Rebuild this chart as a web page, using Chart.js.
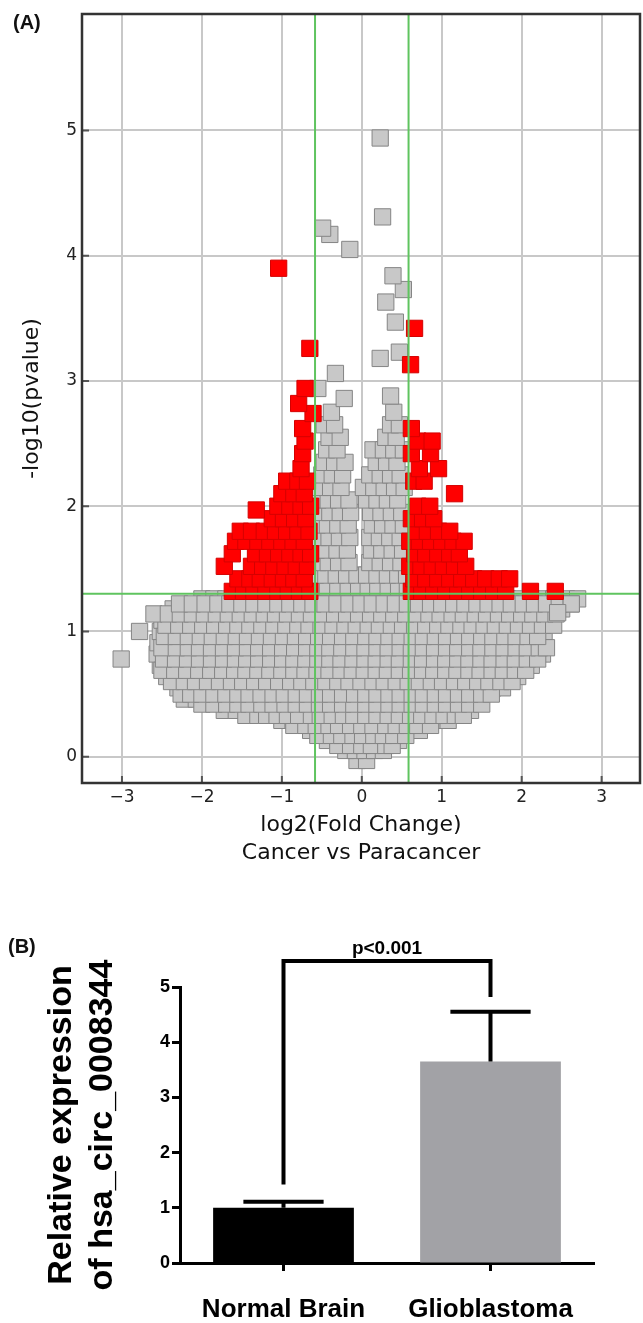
<!DOCTYPE html>
<html>
<head>
<meta charset="utf-8">
<script src="https://cdn.jsdelivr.net/npm/chart.js@4.4.1/dist/chart.umd.min.js"></script>
<style>
  html, body { margin: 0; padding: 0; background: #fff; }
  body { width: 643px; height: 1323px; position: relative; overflow: hidden; }
  .panel { position: absolute; left: 0; }
  #volcanoWrap { top: 0; width: 643px; height: 880px; }
  #barWrap { top: 900px; width: 643px; height: 423px; }
  .tag { position: absolute; font: bold 20px "Liberation Sans", Arial, sans-serif; color: #111; }
</style>
</head>
<body>
<div class="panel" id="volcanoWrap"><canvas id="volcano" width="643" height="880"></canvas></div>
<div class="panel" id="barWrap"><canvas id="bars" width="643" height="423"></canvas></div>
<div class="tag" style="left:13px;top:11px">(A)</div>
<div class="tag" style="left:8px;top:935px">(B)</div>
<script>
// ---- Panel A: volcano plot, log2(fold change) vs -log10(p) ----
const fcCut = 0.585;   // log2(1.5)
const pCut = 1.301;    // -log10(0.05)
const xMin = -3.5, xMax = 3.48;
const yMin = -0.21, yMax = 5.93;

// not significant circRNAs, grouped by -log10(p) level: [y, [x...]]
const grayRows = [
  [-0.03, [-0.06, 0.06]],
  [0.05, [-0.2, -0.08, 0.04, 0.16, 0.27]],
  [0.13, [-0.43, -0.3, -0.17, -0.05, 0.08, 0.2, 0.33, 0.46]],
  [0.21, [-0.64, -0.5, -0.36, -0.22, -0.09, 0.05, 0.18, 0.32, 0.46, 0.6, 0.72]],
  [0.29, [-1.0, -0.86, -0.72, -0.58, -0.44, -0.3, -0.16, -0.02, 0.12, 0.26, 0.4, 0.54, 0.68, 0.82, 0.96, 1.08]],
  [0.37, [-1.72, -1.57, -1.42, -1.28, -1.14, -1.0, -0.86, -0.72, -0.58, -0.44, -0.3, -0.16, -0.02, 0.12, 0.26, 0.4, 0.54, 0.68, 0.82, 0.96, 1.1, 1.24, 1.36]],
  [0.46, [-2.22, -2.07, -1.93, -1.78, -1.62, -1.48, -1.33, -1.18, -1.04, -0.9, -0.75, -0.61, -0.46, -0.31, -0.17, -0.02, 0.12, 0.27, 0.41, 0.56, 0.7, 0.85, 0.99, 1.14, 1.28, 1.43]],
  [0.55, [-2.3, -2.16, -2.01, -1.86, -1.71, -1.56, -1.42, -1.27, -1.12, -0.97, -0.83, -0.68, -0.53, -0.38, -0.24, -0.09, 0.05, 0.2, 0.34, 0.49, 0.63, 0.78, 0.92, 1.07, 1.21, 1.36, 1.5, 1.64, 1.76]],
  [0.64, [-2.44, -2.29, -2.14, -1.99, -1.84, -1.7, -1.55, -1.4, -1.25, -1.1, -0.96, -0.81, -0.66, -0.51, -0.37, -0.22, -0.07, 0.08, 0.22, 0.37, 0.51, 0.66, 0.8, 0.95, 1.09, 1.24, 1.38, 1.53, 1.67, 1.82, 1.95]],
  [0.73, [-2.52, -2.37, -2.22, -2.07, -1.92, -1.77, -1.63, -1.48, -1.33, -1.18, -1.03, -0.89, -0.74, -0.59, -0.44, -0.3, -0.15, 0.0, 0.15, 0.29, 0.44, 0.58, 0.73, 0.87, 1.02, 1.16, 1.31, 1.45, 1.6, 1.74, 1.89, 2.03, 2.12]],
  [0.82, [-2.56, -2.41, -2.26, -2.11, -1.96, -1.81, -1.66, -1.52, -1.37, -1.22, -1.07, -0.92, -0.78, -0.63, -0.48, -0.33, -0.19, -0.04, 0.11, 0.25, 0.4, 0.54, 0.69, 0.83, 0.98, 1.12, 1.27, 1.41, 1.56, 1.7, 1.85, 1.99, 2.14, 2.26]],
  [0.91, [-2.55, -2.4, -2.25, -2.1, -1.95, -1.8, -1.65, -1.5, -1.36, -1.21, -1.06, -0.91, -0.76, -0.62, -0.47, -0.32, -0.17, -0.03, 0.12, 0.26, 0.41, 0.55, 0.7, 0.84, 0.99, 1.13, 1.28, 1.42, 1.57, 1.71, 1.86, 2.0, 2.15, 2.27]],
  [1.0, [-2.78, -2.52, -2.37, -2.22, -2.07, -1.92, -1.77, -1.62, -1.47, -1.33, -1.18, -1.03, -0.88, -0.73, -0.59, -0.44, -0.29, -0.14, 0.0, 0.15, 0.29, 0.44, 0.58, 0.73, 0.87, 1.02, 1.16, 1.31, 1.45, 1.6, 1.74, 1.89, 2.03, 2.17, 2.28]],
  [1.09, [-2.5, -2.35, -2.2, -2.05, -1.9, -1.75, -1.6, -1.45, -1.3, -1.16, -1.01, -0.86, -0.71, -0.56, -0.42, -0.27, -0.12, 0.02, 0.17, 0.31, 0.46, 0.6, 0.75, 0.89, 1.04, 1.18, 1.33, 1.47, 1.62, 1.76, 1.91, 2.05, 2.2, 2.34]],
  [1.18, [-2.36, -2.2, -2.04, -1.88, -1.73, -1.58, -1.43, -1.28, -1.13, -0.98, -0.84, -0.69, -0.54, -0.39, -0.25, -0.1, 0.05, 0.19, 0.34, 0.48, 0.63, 0.77, 0.92, 1.06, 1.21, 1.35, 1.5, 1.64, 1.79, 1.93, 2.08, 2.22, 2.36, 2.5]],
  [1.26, [-2.0, -1.85, -1.7, -1.55, -1.4, -1.25, -1.1, -0.95, -0.8, -0.66, -0.51, -0.36, -0.22, -0.07, 0.08, 0.22, 0.37, 0.51, 0.66, 0.8, 0.95, 1.09, 1.24, 1.38, 1.53, 1.67, 1.82, 1.96, 2.11, 2.25, 2.4, 2.56, 2.7]],
  [1.35, [-0.56, -0.43, -0.3, -0.17, -0.04, 0.08, 0.2, 0.33, 0.46, 0.57]],
  [1.45, [-0.58, -0.45, -0.32, -0.19, -0.06, 0.06, 0.19, 0.32, 0.45, 0.56]],
  [1.55, [-0.55, -0.42, -0.29, -0.16, 0.1, 0.23, 0.36, 0.49]],
  [1.65, [-0.57, -0.44, -0.31, -0.18, 0.12, 0.25, 0.38, 0.51]],
  [1.75, [-0.54, -0.41, -0.28, -0.15, 0.1, 0.22, 0.35, 0.48]],
  [1.85, [-0.56, -0.43, -0.3, -0.17, 0.13, 0.26, 0.39, 0.52]],
  [1.95, [-0.53, -0.4, -0.27, -0.14, 0.11, 0.24, 0.37, 0.5]],
  [2.05, [-0.55, -0.42, -0.29, -0.16, 0.06, 0.19, 0.32, 0.45]],
  [2.15, [-0.52, -0.39, -0.26, 0.02, 0.15, 0.28, 0.41, 0.53]],
  [2.25, [-0.5, -0.37, -0.24, 0.1, 0.23, 0.36, 0.48]],
  [2.35, [-0.47, -0.34, -0.21, 0.18, 0.31, 0.44]],
  [2.45, [-0.44, -0.31, 0.14, 0.27, 0.4, 0.52]],
  [2.55, [-0.41, -0.27, 0.3, 0.43]],
  [2.65, [-0.47, -0.34, 0.36, 0.47]],
  [2.75, [-0.38, 0.4]]
];
// second, offset layer of the dense gray cloud
const grayRowsB = [
  [0.09, [-0.3, -0.14, 0.0, 0.12, 0.3, 0.38]],
  [0.17, [-0.55, -0.38, -0.25, -0.11, 0.01, 0.15, 0.27, 0.4, 0.55]],
  [0.25, [-0.85, -0.7, -0.57, -0.41, -0.29, -0.14, 0.0, 0.14, 0.3, 0.43, 0.57, 0.7, 0.86]],
  [0.33, [-1.45, -1.3, -1.19, -1.06, -0.93, -0.79, -0.63, -0.52, -0.37, -0.23, -0.1, 0.05, 0.19, 0.33, 0.47, 0.61, 0.75, 0.89, 1.03, 1.17, 1.27]],
  [0.42, [-2.0, -1.85, -1.69, -1.55, -1.41, -1.25, -1.11, -0.96, -0.82, -0.68, -0.53, -0.39, -0.24, -0.1, 0.05, 0.19, 0.34, 0.48, 0.63, 0.77, 0.92, 1.06, 1.21, 1.35, 1.5]],
  [0.5, [-2.26, -2.14, -2.0, -1.85, -1.7, -1.55, -1.41, -1.26, -1.11, -0.97, -0.82, -0.68, -0.53, -0.39, -0.24, -0.09, 0.05, 0.19, 0.34, 0.48, 0.63, 0.77, 0.92, 1.06, 1.21, 1.35, 1.5, 1.62]],
  [0.6, [-2.38, -2.22, -2.08, -1.93, -1.78, -1.63, -1.49, -1.34, -1.19, -1.04, -0.89, -0.75, -0.6, -0.45, -0.3, -0.16, -0.01, 0.14, 0.28, 0.43, 0.58, 0.72, 0.87, 1.01, 1.16, 1.3, 1.45, 1.59, 1.74, 1.88]],
  [0.69, [-2.5, -2.34, -2.19, -2.04, -1.89, -1.74, -1.59, -1.45, -1.3, -1.15, -1.0, -0.85, -0.71, -0.56, -0.41, -0.26, -0.12, 0.03, 0.18, 0.32, 0.47, 0.61, 0.76, 0.9, 1.05, 1.19, 1.34, 1.48, 1.63, 1.77, 1.92, 2.05]],
  [0.78, [-2.48, -2.33, -2.18, -2.03, -1.88, -1.73, -1.58, -1.44, -1.29, -1.14, -0.99, -0.85, -0.7, -0.55, -0.4, -0.26, -0.11, 0.04, 0.18, 0.33, 0.47, 0.62, 0.76, 0.91, 1.05, 1.2, 1.34, 1.49, 1.63, 1.78, 1.92, 2.07, 2.2]],
  [0.87, [-2.5, -2.32, -2.17, -2.03, -1.88, -1.73, -1.58, -1.43, -1.29, -1.14, -0.99, -0.84, -0.69, -0.55, -0.4, -0.25, -0.1, 0.04, 0.19, 0.33, 0.48, 0.62, 0.77, 0.91, 1.06, 1.2, 1.35, 1.49, 1.64, 1.78, 1.93, 2.07, 2.22, 2.31]],
  [0.96, [-2.47, -2.32, -2.17, -2.02, -1.87, -1.72, -1.57, -1.43, -1.28, -1.13, -0.98, -0.83, -0.69, -0.54, -0.39, -0.24, -0.1, 0.05, 0.19, 0.34, 0.48, 0.63, 0.77, 0.92, 1.06, 1.21, 1.35, 1.5, 1.64, 1.79, 1.93, 2.08, 2.2]],
  [1.05, [-2.45, -2.29, -2.14, -1.99, -1.84, -1.69, -1.55, -1.4, -1.25, -1.1, -0.95, -0.8, -0.66, -0.51, -0.36, -0.21, -0.07, 0.08, 0.22, 0.37, 0.51, 0.66, 0.8, 0.95, 1.09, 1.24, 1.38, 1.53, 1.67, 1.82, 1.96, 2.11, 2.26, 2.4]],
  [1.14, [-2.6, -2.42, -2.27, -2.12, -1.97, -1.82, -1.67, -1.52, -1.37, -1.22, -1.08, -0.93, -0.78, -0.63, -0.48, -0.34, -0.19, -0.04, 0.11, 0.25, 0.4, 0.55, 0.69, 0.84, 0.98, 1.13, 1.27, 1.42, 1.56, 1.71, 1.85, 2.0, 2.14, 2.29, 2.43]],
  [1.22, [-2.28, -2.12, -1.96, -1.8, -1.65, -1.5, -1.35, -1.2, -1.05, -0.9, -0.75, -0.61, -0.46, -0.31, -0.16, -0.01, 0.13, 0.28, 0.42, 0.57, 0.71, 0.86, 1.0, 1.15, 1.29, 1.44, 1.58, 1.73, 1.87, 2.02, 2.16, 2.31, 2.47, 2.62]]
];
// isolated gray points [x, y]
const grayExtra = [
  [-3.01, 0.78], [2.62, 1.22], [2.45, 1.15],
  [-0.55, 2.94], [-0.33, 3.06], [-0.22, 2.86], [0.36, 2.88], [0.23, 3.18], [0.47, 3.23],
  [0.42, 3.47], [0.3, 3.63], [0.52, 3.73], [0.39, 3.84], [-0.15, 4.05], [-0.4, 4.17],
  [-0.49, 4.22], [0.26, 4.31], [0.23, 4.94]
];

// significant circRNAs (p < 0.05, |FC| > 1.5)
const redRows = [
  [1.32, [-1.62, -1.48, -1.35, -1.2, -1.05, -0.92, -0.78, -0.65, 0.62, 0.75, 0.9, 1.05, 1.2, 1.35, 1.5, 1.65, 1.8, 2.11, 2.42]],
  [1.42, [-1.55, -1.4, -1.27, -1.12, -0.98, -0.85, -0.72, 0.65, 0.8, 0.95, 1.1, 1.25, 1.4, 1.55, 1.72, 1.85]],
  [1.52, [-1.72, -1.38, -1.24, -1.1, -0.96, -0.82, -0.68, 0.6, 0.74, 0.88, 1.02, 1.16, 1.3]],
  [1.62, [-1.62, -1.33, -1.18, -1.04, -0.9, -0.76, -0.64, 0.66, 0.8, 0.95, 1.1, 1.22]],
  [1.72, [-1.58, -1.45, -1.3, -1.15, -1.0, -0.86, -0.72, 0.6, 0.72, 0.86, 1.0, 1.14, 1.28]],
  [1.8, [-1.52, -1.38, -1.22, -1.08, -0.94, -0.8, -0.66, 0.68, 0.82, 0.96, 1.1]],
  [1.9, [-1.12, -0.98, -0.84, -0.7, 0.62, 0.76, 0.9]],
  [2.0, [-1.05, -0.9, -0.76, -0.64, 0.7, 0.85]],
  [2.1, [-1.0, -0.85, -0.72, 1.16]],
  [2.2, [-0.94, -0.8, -0.68, 0.65, 0.78]],
  [2.3, [-0.76, 0.72, 0.96]],
  [2.42, [-0.74, 0.62, 0.86]],
  [2.52, [-0.71, 0.7, 0.88]],
  [2.62, [-0.74, 0.62]]
];
const redExtra = [
  [-1.32, 1.97], [-0.61, 2.74], [-0.79, 2.82], [-0.71, 2.94], [-0.65, 3.26], [-1.04, 3.9],
  [0.61, 3.13], [0.66, 3.42]
];

// ---- Panel B: relative expression bars ----
const groups = ['Normal Brain', 'Glioblastoma'];
const meanExpr = [1.0, 3.65];
const sdExpr = [0.11, 0.9];
const barColors = ['#000000', '#a2a2a6'];
const pLabel = 'p<0.001';
const bracketLevels = { left: 1.42, top: 5.47, right: 4.82 };

const aFont = '"DejaVu Sans", sans-serif';
const bFont = '"Liberation Sans", Arial, sans-serif';

function rowsToPoints(rowSets, extra) {
  const pts = [];
  rowSets.forEach(rows => rows.forEach(([y, xs]) => xs.forEach(x => pts.push({ x: x, y: y }))));
  extra.forEach(([x, y]) => pts.push({ x: x, y: y }));
  return pts;
}

function signedTick(v) {
  return v < 0 ? '\u2212' + Math.abs(v) : String(v);
}

// plot frame and short inward ticks, drawn over everything
const frameTicks = {
  id: 'frameTicks',
  afterDraw(chart) {
    const { ctx, chartArea: a, scales: { x, y } } = chart;
    ctx.save();
    ctx.strokeStyle = '#555';
    ctx.lineWidth = 2;
    ctx.beginPath();
    x.ticks.forEach(t => {
      const px = x.getPixelForValue(t.value);
      ctx.moveTo(px, a.bottom); ctx.lineTo(px, a.bottom - 7);
    });
    y.ticks.forEach(t => {
      const py = y.getPixelForValue(t.value);
      ctx.moveTo(a.left, py); ctx.lineTo(a.left + 7, py);
    });
    ctx.stroke();
    ctx.strokeStyle = '#333';
    ctx.lineWidth = 2.5;
    ctx.strokeRect(a.left, a.top, a.right - a.left, a.bottom - a.top);
    ctx.restore();
  }
};

const greenLine = {
  type: 'line', showLine: true, pointRadius: 0, borderColor: '#5fc45f',
  borderWidth: 2, fill: false, order: 0
};

new Chart(document.getElementById('volcano'), {
  type: 'scatter',
  data: {
    datasets: [
      Object.assign({ data: [{ x: -fcCut, y: yMin }, { x: -fcCut, y: yMax }] }, greenLine),
      Object.assign({ data: [{ x: fcCut, y: yMin }, { x: fcCut, y: yMax }] }, greenLine),
      Object.assign({ data: [{ x: xMin, y: pCut }, { x: xMax, y: pCut }] }, greenLine),
      {
        data: rowsToPoints([redRows], redExtra), order: 1,
        pointStyle: 'rect', pointRadius: 11.5, pointBackgroundColor: '#ff0000',
        pointBorderColor: '#d40000', pointBorderWidth: 1
      },
      {
        data: rowsToPoints([grayRows, grayRowsB], grayExtra), order: 2,
        pointStyle: 'rect', pointRadius: 11.5, pointBackgroundColor: '#c8c8c8',
        pointBorderColor: '#858585', pointBorderWidth: 1
      }
    ]
  },
  options: {
    responsive: false,
    animation: false,
    layout: { autoPadding: false, padding: { top: 14, right: 3, left: 0, bottom: 0 } },
    plugins: { legend: { display: false }, tooltip: { enabled: false } },
    scales: {
      x: {
        type: 'linear', min: xMin, max: xMax,
        ticks: { stepSize: 1, includeBounds: false, padding: 4, color: '#222',
          font: { family: aFont, size: 17 }, callback: signedTick },
        grid: { color: '#c8c8c8', lineWidth: 2, drawTicks: false },
        border: { display: false },
        title: { display: true, text: ['log2(Fold Change)', 'Cancer vs Paracancer'], color: '#111',
          font: { family: aFont, size: 22, lineHeight: 1.27 }, padding: { top: 0, bottom: 13 } },
        afterFit: s => { s.height = 97; s.paddingLeft = 0; s.paddingRight = 0; }
      },
      y: {
        min: yMin, max: yMax,
        ticks: { stepSize: 1, includeBounds: false, padding: 5, color: '#222',
          font: { family: aFont, size: 17 }, callback: signedTick },
        grid: { color: '#c8c8c8', lineWidth: 2, drawTicks: false },
        border: { display: false },
        title: { display: true, text: '-log10(pvalue)', color: '#111',
          font: { family: aFont, size: 22 }, padding: { top: 19, bottom: 0 } },
        afterFit: s => { s.width = 82; s.paddingTop = 0; s.paddingBottom = 0; }
      }
    }
  },
  plugins: [frameTicks]
});

// error bars (upward only), significance bracket and p label
const errorBars = {
  id: 'errorBars',
  afterDatasetsDraw(chart) {
    const { ctx, scales: { y } } = chart;
    const bars = chart.getDatasetMeta(0).data;
    ctx.save();
    ctx.strokeStyle = '#000';
    ctx.lineWidth = 4;
    ctx.lineCap = 'butt';
    ctx.lineJoin = 'miter';
    ctx.beginPath();
    bars.forEach((bar, i) => {
      const top = y.getPixelForValue(meanExpr[i] + sdExpr[i]);
      const half = bar.width * 0.285;
      ctx.moveTo(bar.x, bar.y);
      ctx.lineTo(bar.x, top);
      ctx.moveTo(bar.x - half, top);
      ctx.lineTo(bar.x + half, top);
    });
    ctx.stroke();

    const x0 = bars[0].x, x1 = bars[1].x;
    const yTop = y.getPixelForValue(bracketLevels.top);
    ctx.beginPath();
    ctx.moveTo(x0, y.getPixelForValue(bracketLevels.left));
    ctx.lineTo(x0, yTop);
    ctx.lineTo(x1, yTop);
    ctx.lineTo(x1, y.getPixelForValue(bracketLevels.right));
    ctx.stroke();

    ctx.fillStyle = '#000';
    ctx.font = 'bold 19px ' + bFont;
    ctx.textAlign = 'center';
    ctx.textBaseline = 'alphabetic';
    ctx.fillText(pLabel, (x0 + x1) / 2, yTop - 7);
    ctx.restore();
  }
};

new Chart(document.getElementById('bars'), {
  type: 'bar',
  data: {
    labels: groups,
    datasets: [{
      data: meanExpr, backgroundColor: barColors, borderWidth: 0,
      barPercentage: 0.68, categoryPercentage: 1
    }]
  },
  options: {
    responsive: false,
    animation: false,
    layout: { padding: { top: 87, right: 49, left: 0, bottom: 0 } },
    plugins: { legend: { display: false }, tooltip: { enabled: false } },
    scales: {
      x: {
        grid: { display: true, drawOnChartArea: false, offset: false, tickLength: 8, tickWidth: 3, tickColor: '#000' },
        border: { color: '#000', width: 3 },
        ticks: { padding: 23, color: '#000', font: { family: bFont, size: 26, weight: 'bold' } },
        afterFit: s => { s.height = 60; }
      },
      y: {
        min: 0, max: 5,
        ticks: { stepSize: 1, padding: 2, color: '#000', font: { family: bFont, size: 18, weight: 'bold' } },
        grid: { display: true, drawOnChartArea: false, tickLength: 8, tickWidth: 3, tickColor: '#000' },
        border: { color: '#000', width: 3 },
        title: { display: true, text: ['Relative expression', 'of hsa_circ_0008344'], color: '#000',
          font: { family: bFont, size: 34, weight: 'bold', lineHeight: 1.18 }, padding: { top: 42, bottom: 0 } },
        afterFit: s => { s.width = 180; }
      }
    }
  },
  plugins: [errorBars]
});
</script>
</body>
</html>
